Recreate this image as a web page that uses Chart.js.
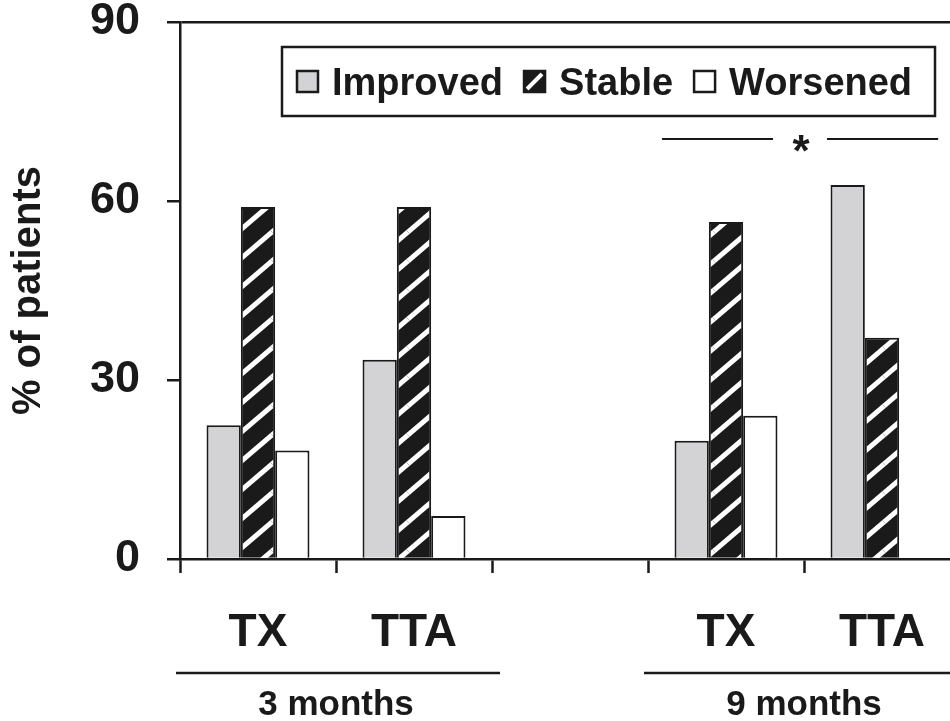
<!DOCTYPE html>
<html lang="en">
<head>
<meta charset="UTF-8">
<title>% of patients: Improved / Stable / Worsened</title>
<script src="https://cdn.jsdelivr.net/npm/chart.js"></script>
<style>
  html, body { margin: 0; padding: 0; background: #fff; overflow: hidden; }
  /* the original figure is cut off on the right, so the chart is a bit wider than the window */
  #wrap { width: 960px; height: 721px; }
</style>
</head>
<body>
<div id="wrap"><canvas id="outcomeChart"></canvas></div>
<script>
// values (% of patients)
var categories = ['TX', 'TTA', '', 'TX', 'TTA'];
var improved = [22.4, 33.4, null, 19.8, 62.7];
var stable   = [59.0, 59.0, null, 56.5, 37.1];
var worsened = [18.2, 7.2, null, 24.0, 0];
var seriesNames = ['Improved', 'Stable', 'Worsened'];
var yTicks = [0, 30, 60, 90];
var periods = ['3 months', '9 months'];
var periodSpans = [[0, 1], [3, 4]];
var sigMark = '*';
var sigSpan = [3, 4];

var FONT = "'Liberation Sans', Arial, sans-serif";
var INK = '#1a1a1a';
var GREY = '#d3d3d5';

var canvas = document.getElementById('outcomeChart');
var ctx = canvas.getContext('2d');

// black with white diagonal stripes
function makeHatch() {
    var w = 34, h = 29;
    var c = document.createElement('canvas');
    c.width = w; c.height = h;
    var g = c.getContext('2d');
    g.fillStyle = INK;
    g.fillRect(0, 0, w, h);
    g.strokeStyle = '#fff';
    g.lineWidth = 5;
    [[0, 0], [w, 0], [-w, 0], [0, h], [0, -h]].forEach(function (o) {
        g.beginPath();
        g.moveTo(o[0], h + o[1]);
        g.lineTo(w + o[0], o[1]);
        g.stroke();
    });
    return ctx.createPattern(c, 'repeat');
}
var hatch = makeHatch();

function legendSwatch(c, i, x, y, s) {
    if (i === 1) {
        c.fillStyle = INK;
        c.fillRect(x, y, s, s);
        c.save();
        c.beginPath(); c.rect(x, y, s, s); c.clip();
        c.strokeStyle = '#fff'; c.lineWidth = 4;
        c.beginPath(); c.moveTo(x + 3, y + s - 3); c.lineTo(x + s - 3, y + 3); c.stroke();
        c.restore();
    } else {
        c.fillStyle = i === 0 ? GREY : '#fff';
        c.fillRect(x, y, s, s);
    }
    c.strokeStyle = INK; c.lineWidth = 2.5;
    c.strokeRect(x, y, s, s);
}

var decorations = {
    id: 'decorations',
    afterDraw: function (chart) {
        var c = chart.ctx, xs = chart.scales.x, ys = chart.scales.y;
        var slot = xs.getPixelForValue(1) - xs.getPixelForValue(0);
        c.save();

        // legend box inside the plot
        c.strokeStyle = INK; c.lineWidth = 2.5;
        c.strokeRect(282, 47, 653, 69);
        c.font = 'bold 38px ' + FONT;
        c.textBaseline = 'alphabetic';
        c.textAlign = 'left';
        var lx = 297;
        seriesNames.forEach(function (name, i) {
            legendSwatch(c, i, lx, 71, 21);
            c.fillStyle = INK;
            c.fillText(name, lx + 35, 95);
            lx += 35 + c.measureText(name).width + 21;
        });

        // significance bar over the 9 months group
        var a = xs.getPixelForValue(sigSpan[0]), b = xs.getPixelForValue(sigSpan[1]);
        var mid = (a + b) / 2 - 3, sy = 139;
        c.strokeStyle = INK; c.lineWidth = 2;
        c.beginPath();
        c.moveTo(a - 0.41 * slot, sy); c.lineTo(mid - 28, sy);
        c.moveTo(mid + 26, sy); c.lineTo(b + 0.36 * slot, sy);
        c.stroke();
        c.font = 'bold 44px ' + FONT;
        c.textAlign = 'center';
        c.fillStyle = INK;
        c.fillText(sigMark, mid, 166);

        // period labels under the axis
        c.font = 'bold 35px ' + FONT;
        periods.forEach(function (p, i) {
            var l = xs.getPixelForValue(periodSpans[i][0]) - slot / 2 - 4;
            var r = xs.getPixelForValue(periodSpans[i][1]) + slot / 2 + 8;
            c.lineWidth = 2.5;
            c.beginPath(); c.moveTo(l, 673); c.lineTo(r, 673); c.stroke();
            var cx = (xs.getPixelForValue(periodSpans[i][0]) + xs.getPixelForValue(periodSpans[i][1])) / 2;
            c.fillText(p, cx, 715);
        });
        c.restore();
    }
};

new Chart(ctx, {
    type: 'bar',
    data: {
        labels: categories,
        datasets: [
            { label: seriesNames[0], data: improved, backgroundColor: GREY },
            { label: seriesNames[1], data: stable, backgroundColor: hatch },
            { label: seriesNames[2], data: worsened, backgroundColor: '#fff' }
        ].map(function (d) {
            d.borderColor = INK;
            d.borderWidth = 2;
            d.categoryPercentage = 0.66;
            d.barPercentage = 1.0;
            return d;
        })
    },
    options: {
        responsive: true,
        maintainAspectRatio: false,
        animation: false,
        layout: { padding: { top: 22, right: 0, bottom: 0, left: 0 } },
        plugins: { legend: { display: false }, tooltip: { enabled: false } },
        scales: {
            x: {
                grid: { offset: true, drawOnChartArea: false, tickLength: 14, tickWidth: 2.5, tickColor: INK },
                border: { color: INK, width: 2.5 },
                ticks: { color: INK, padding: 33, font: { family: FONT, size: 46, weight: 'bold' } },
                afterFit: function (s) { s.height = 162; }
            },
            y: {
                min: 0,
                max: 90,
                afterBuildTicks: function (s) { s.ticks = yTicks.map(function (v) { return { value: v }; }); },
                grid: {
                    color: function (c) { return c.tick && c.tick.value === 90 ? INK : 'rgba(0,0,0,0)'; },
                    lineWidth: 2.5, tickLength: 13, tickWidth: 2.5, tickColor: INK
                },
                border: { color: INK, width: 2.5 },
                ticks: { color: INK, padding: 27, font: { family: FONT, size: 45, weight: 'bold' } },
                title: {
                    display: true, text: '% of patients', color: INK,
                    padding: { top: 5, bottom: 0 },
                    font: { family: FONT, size: 40, weight: 'bold' }
                },
                afterFit: function (s) {
                    s.width = 180;
                    // let the chart reach the top padding, the "90" label may overhang
                    s.paddingTop = 0;
                    s.paddingBottom = 0;
                }
            }
        }
    },
    plugins: [decorations]
});
</script>
</body>
</html>
